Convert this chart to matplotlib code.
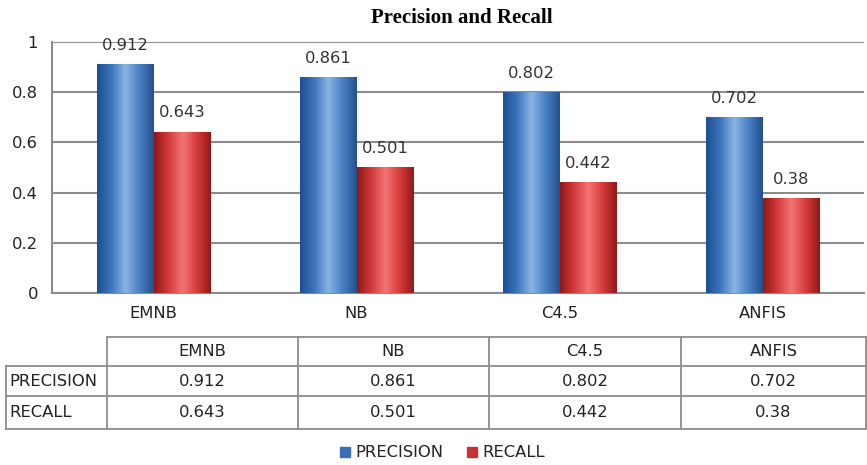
import numpy as np
import matplotlib
matplotlib.use("Agg")
import matplotlib.pyplot as plt
from matplotlib.colors import LinearSegmentedColormap

categories = ["EMNB", "NB", "C4.5", "ANFIS"]
precision = [0.912, 0.861, 0.802, 0.702]
recall = [0.643, 0.501, 0.442, 0.38]
precision_labels = ["0.912", "0.861", "0.802", "0.702"]
recall_labels = ["0.643", "0.501", "0.442", "0.38"]
series_names = ["PRECISION", "RECALL"]
yticks = [0, 0.2, 0.4, 0.6, 0.8, 1.0]
ytick_labels = ["0", "0.2", "0.4", "0.6", "0.8", "1"]

W, H = 867, 465
plt.rcParams['font.family'] = ['DejaVu Sans']
fig = plt.figure(figsize=(W / 100, H / 100), dpi=100)
FS = 11.8

def fx(px):
    return px / W

def fy(py):
    return 1 - py / H

ax = fig.add_axes([fx(52), fy(293), fx(864) - fx(52), fy(42) - fy(293)])
ax.set_xlim(-0.5, len(categories) - 0.5)
ax.set_ylim(0, 1)

blue_cmap = LinearSegmentedColormap.from_list(
    "b", ["#1d4f8f", "#3d74bd", "#8ab4e2", "#4a7fc4", "#22508f"])
red_cmap = LinearSegmentedColormap.from_list(
    "r", ["#8f1717", "#d23a3a", "#f47474", "#d63c3c", "#921818"])

bw = 0.28
x = np.arange(len(categories))
grad = np.linspace(0, 1, 256).reshape(1, -1)

def gradient_bars(xpos, vals, cmap, labels):
    bars = ax.bar(xpos, vals, width=bw, color="none", edgecolor="none", zorder=3)
    for b, lab in zip(bars, labels):
        x0 = b.get_x()
        x1 = x0 + b.get_width()
        h = b.get_height()
        im = ax.imshow(grad, cmap=cmap, aspect="auto", extent=[x0, x1, 0, h],
                       zorder=3, interpolation="bicubic")
        im.set_clip_path(b)
        ax.annotate(lab, (x0 + b.get_width() / 2, h), xytext=(0, 8),
                    textcoords="offset points", ha="center", va="bottom",
                    fontsize=FS, color="#333333", zorder=4)
    return bars

gradient_bars(x - bw / 2, precision, blue_cmap, precision_labels)
gradient_bars(x + bw / 2, recall, red_cmap, recall_labels)
ax.set_xlim(-0.5, len(categories) - 0.5)
ax.set_ylim(0, 1)

ax.set_yticks(yticks)
ax.set_yticklabels(ytick_labels, fontsize=FS, color="#222222")
ax.set_xticks(x)
ax.set_xticklabels(categories, fontsize=FS, color="#222222")
ax.tick_params(axis="both", length=0, pad=9)
ax.tick_params(axis="y", pad=10)
ax.yaxis.grid(True, color="#8c8c8c", linewidth=1.5, zorder=0)
ax.set_axisbelow(True)
for s in ["top", "right"]:
    ax.spines[s].set_visible(False)
ax.spines["left"].set_color("#8c8c8c")
ax.spines["left"].set_linewidth(1.5)
ax.spines["bottom"].set_color("#8c8c8c")
ax.spines["bottom"].set_linewidth(1.5)

fig.text(fx(462), fy(18), "Precision and Recall", ha="center", va="center",
         fontsize=15, fontweight="bold", family="Liberation Serif")

# data table
tax = fig.add_axes([0, 0, 1, 1])
tax.set_xlim(0, W)
tax.set_ylim(H, 0)
tax.axis("off")
col_edges = [6, 107, 298, 489, 681, 866]
row_edges = [337, 366, 396, 429]
lc = "#8c8c8c"
lw = 1.3
tax.plot([col_edges[1], col_edges[-1]], [row_edges[0]] * 2, color=lc, lw=lw)
for ry in row_edges[1:]:
    tax.plot([col_edges[0], col_edges[-1]], [ry, ry], color=lc, lw=lw)
tax.plot([col_edges[0]] * 2, [row_edges[1], row_edges[-1]], color=lc, lw=lw)
for cx in col_edges[1:]:
    tax.plot([cx, cx], [row_edges[0], row_edges[-1]], color=lc, lw=lw)

rows = [precision_labels, recall_labels]
for j, cat in enumerate(categories):
    cxm = (col_edges[j + 1] + col_edges[j + 2]) / 2
    tax.text(cxm, (row_edges[0] + row_edges[1]) / 2, cat, ha="center", va="center",
             fontsize=FS, color="#222222")
    for i, r in enumerate(rows):
        tax.text(cxm, (row_edges[i + 1] + row_edges[i + 2]) / 2, r[j], ha="center",
                 va="center", fontsize=FS, color="#222222")
for i, name in enumerate(series_names):
    tax.text(col_edges[0] + 3, (row_edges[i + 1] + row_edges[i + 2]) / 2, name,
             ha="left", va="center", fontsize=FS, color="#222222")

leg_items = [(340, "#3a6fb8", series_names[0]), (467, "#c93030", series_names[1])]
for lx, colr, name in leg_items:
    tax.add_patch(plt.Rectangle((lx, 447), 10, 10, color=colr))
    tax.text(lx + 15, 452, name, ha="left", va="center", fontsize=FS, color="#222222")

fig.savefig("out.png", dpi=100)
